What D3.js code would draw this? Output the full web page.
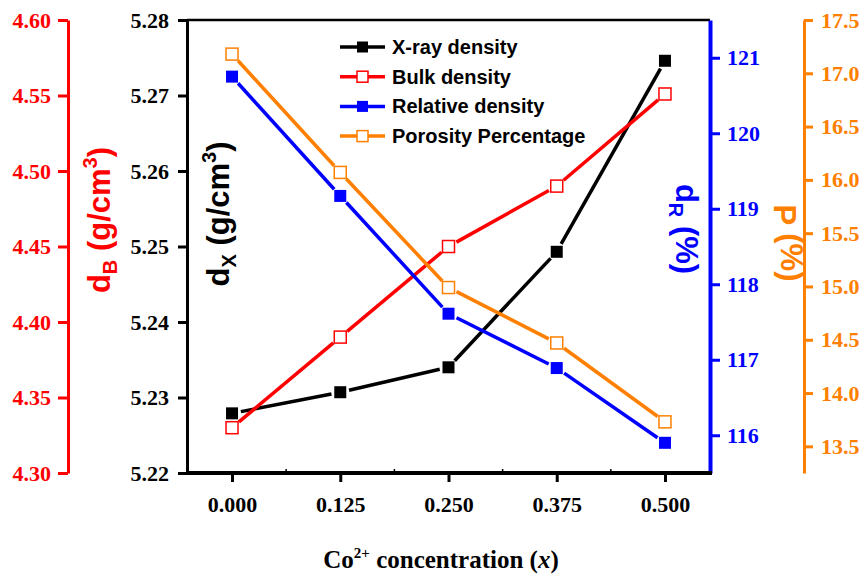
<!DOCTYPE html>
<html>
<head>
<meta charset="utf-8">
<script src="https://cdn.jsdelivr.net/npm/d3@7"></script>
<style>
body { margin: 0; background: #fff; }
</style>
</head>
<body>
<div id="chart"></div>
<script>
// data
var conc = [0, 0.125, 0.25, 0.375, 0.5]
var xrayDensity = [5.2279, 5.2307, 5.2340, 5.2493, 5.2746]
var bulkDensity = [4.330, 4.390, 4.450, 4.490, 4.551]
var relDensity = [120.75, 119.17, 117.61, 116.89, 115.90]
var porosity = [17.18, 16.07, 14.99, 14.47, 13.73]

// tick labels
var xTicks = [0, 0.125, 0.25, 0.375, 0.5]
var xMinorTicks = [0.0625, 0.1875, 0.3125, 0.4375]
var xrayTicks = [5.22, 5.23, 5.24, 5.25, 5.26, 5.27, 5.28]
var bulkTicks = [4.30, 4.35, 4.40, 4.45, 4.50, 4.55, 4.60]
var relTicks = [116, 117, 118, 119, 120, 121]
var porTicks = [13.5, 14.0, 14.5, 15.0, 15.5, 16.0, 16.5, 17.0, 17.5]

var seriesNames = ["X-ray density", "Bulk density", "Relative density", "Porosity Percentage"]
var seriesColors = ["#000000", "#ff0000", "#0000ff", "#ff8000"]

var width = 866, height = 579
var plotLeft = 187, plotRight = 710, plotTop = 20, plotBottom = 473

var svg = d3.select("#chart").append("svg")
    .attr("width", width)
    .attr("height", height)

var x = d3.scaleLinear().domain([-0.052, 0.552]).range([plotLeft, plotRight])
var yX = d3.scaleLinear().domain([5.22, 5.28]).range([plotBottom, plotTop])
var yB = d3.scaleLinear().domain([4.30, 4.60]).range([plotBottom, plotTop])
var yR = d3.scaleLinear().domain([115.5, 121.5]).range([plotBottom, plotTop])
var yP = d3.scaleLinear().domain([13.25, 17.5]).range([plotBottom, plotTop])

var serif = "'Liberation Serif', 'Times New Roman', serif"
var sans = "'Liberation Sans', Arial, sans-serif"

function styleAxis(g, color, lw) {
    g.select(".domain").attr("stroke", color).attr("stroke-width", lw)
    g.selectAll(".tick line").attr("stroke", color).attr("stroke-width", 3)
    g.selectAll(".tick text")
        .attr("fill", color)
        .style("font-family", serif)
        .style("font-weight", "bold")
        .style("font-size", "22px")
}

// top frame line
svg.append("line")
    .attr("x1", plotLeft).attr("x2", plotRight)
    .attr("y1", plotTop).attr("y2", plotTop)
    .attr("stroke", "#000").attr("stroke-width", 2.5)

// red axis (bulk density)
var gB = svg.append("g").attr("transform", "translate(68,0)")
    .call(d3.axisLeft(yB).tickValues(bulkTicks).tickFormat(d3.format(".2f"))
        .tickSize(10).tickSizeOuter(0).tickPadding(7))
styleAxis(gB, "#ff0000", 3)

// black axis (x-ray density)
var gX = svg.append("g").attr("transform", "translate(" + plotLeft + ",0)")
    .call(d3.axisLeft(yX).tickValues(xrayTicks).tickFormat(d3.format(".2f"))
        .tickSize(9).tickSizeOuter(0).tickPadding(9))
styleAxis(gX, "#000", 3)

// blue axis (relative density)
var gR = svg.append("g").attr("transform", "translate(" + plotRight + ",0)")
    .call(d3.axisRight(yR).tickValues(relTicks).tickFormat(d3.format("d"))
        .tickSize(10).tickSizeOuter(0).tickPadding(7))
styleAxis(gR, "#0000ff", 4)

// orange axis (porosity)
var gP = svg.append("g").attr("transform", "translate(804,0)")
    .call(d3.axisRight(yP).tickValues(porTicks).tickFormat(d3.format(".1f"))
        .tickSize(9).tickSizeOuter(0).tickPadding(8))
styleAxis(gP, "#ff8000", 3)

// bottom axis
var gx = svg.append("g").attr("transform", "translate(0," + plotBottom + ")")
    .call(d3.axisBottom(x).tickValues(xTicks).tickFormat(d3.format(".3f"))
        .tickSize(9).tickSizeOuter(0).tickPadding(14))
styleAxis(gx, "#000", 4)
gx.select(".domain").attr("d", "M" + (plotLeft - 1) + ",0H" + (plotRight + 2))

gx.selectAll(".minor")
    .data(xMinorTicks)
    .enter()
    .append("line")
    .attr("x1", d => x(d)).attr("x2", d => x(d))
    .attr("y1", 0).attr("y2", -4)
    .attr("stroke", "#000").attr("stroke-width", 1.5)

// series
var series = [
    {values: xrayDensity, y: yX, color: seriesColors[0], open: false},
    {values: bulkDensity, y: yB, color: seriesColors[1], open: true},
    {values: relDensity, y: yR, color: seriesColors[2], open: false},
    {values: porosity, y: yP, color: seriesColors[3], open: true}
]

// line segments stop short of the markers
function segments(s) {
    var pts = conc.map((c, i) => [x(c), s.y(s.values[i])])
    var out = []
    var gap = 9
    for (let i = 0; i < pts.length - 1; i++) {
        var dx = pts[i + 1][0] - pts[i][0], dy = pts[i + 1][1] - pts[i][1]
        var len = Math.sqrt(dx * dx + dy * dy)
        var ux = dx / len, uy = dy / len
        out.push({
            x1: pts[i][0] + ux * gap, y1: pts[i][1] + uy * gap,
            x2: pts[i + 1][0] - ux * gap, y2: pts[i + 1][1] - uy * gap
        })
    }
    return out
}

series.forEach(function (s) {
    var g = svg.append("g")
    g.selectAll("line")
        .data(segments(s))
        .enter()
        .append("line")
        .attr("x1", d => d.x1).attr("y1", d => d.y1)
        .attr("x2", d => d.x2).attr("y2", d => d.y2)
        .attr("stroke", s.color)
        .attr("stroke-width", 3.5)
    g.selectAll("rect")
        .data(s.values)
        .enter()
        .append("rect")
        .attr("x", (d, i) => x(conc[i]) - 6)
        .attr("y", d => s.y(d) - 6)
        .attr("width", 12)
        .attr("height", 12)
        .attr("fill", s.open ? "#fff" : s.color)
        .attr("stroke", s.open ? s.color : "none")
        .attr("stroke-width", 1.5)
})

// legend
var legend = svg.append("g")
seriesNames.forEach(function (name, i) {
    var ly = 47 + i * 29.7
    legend.append("line")
        .attr("x1", 340).attr("x2", 385)
        .attr("y1", ly).attr("y2", ly)
        .attr("stroke", seriesColors[i]).attr("stroke-width", 3.5)
    legend.append("rect")
        .attr("x", 357).attr("y", ly - 5.5)
        .attr("width", 11).attr("height", 11)
        .attr("fill", series[i].open ? "#fff" : seriesColors[i])
        .attr("stroke", seriesColors[i])
        .attr("stroke-width", series[i].open ? 1.5 : 0)
    legend.append("text")
        .attr("x", 392).attr("y", ly + 7)
        .style("font-family", sans)
        .style("font-weight", "bold")
        .style("font-size", "20px")
        .text(name)
})

// axis titles
function axisTitle(tx, ty, rot, color, main, sub, rest, sup, tail) {
    var t = svg.append("text")
        .attr("transform", "translate(" + tx + "," + ty + ") rotate(" + rot + ")")
        .attr("text-anchor", "middle")
        .attr("fill", color)
        .style("font-family", sans)
        .style("font-weight", "bold")
        .style("font-size", "31px")
    t.append("tspan").text(main)
    t.append("tspan").attr("dy", 7).style("font-size", "20px").text(sub)
    t.append("tspan").attr("dy", -7).text(rest)
    if (sup) {
        t.append("tspan").attr("dy", -13).style("font-size", "20px").text(sup)
        t.append("tspan").attr("dy", 13).text(tail)
    }
}

axisTitle(110, 220, -90, "#ff0000", "d", "B", " (g/cm", "3", ")")
axisTitle(229, 214, -90, "#000", "d", "X", " (g/cm", "3", ")")
axisTitle(676, 229, 90, "#0000ff", "d", "R", " (%)")
axisTitle(774, 243, 90, "#ff8000", "P", "", " (%)")

// x title
var xt = svg.append("text")
    .attr("x", 441).attr("y", 568)
    .attr("text-anchor", "middle")
    .style("font-family", serif)
    .style("font-weight", "bold")
    .style("font-size", "25px")
xt.append("tspan").text("Co")
xt.append("tspan").attr("dy", -10).style("font-size", "15px").text("2+")
xt.append("tspan").attr("dy", 10).text(" concentration (")
xt.append("tspan").style("font-style", "italic").text("x")
xt.append("tspan").text(")")
</script>
</body>
</html>
